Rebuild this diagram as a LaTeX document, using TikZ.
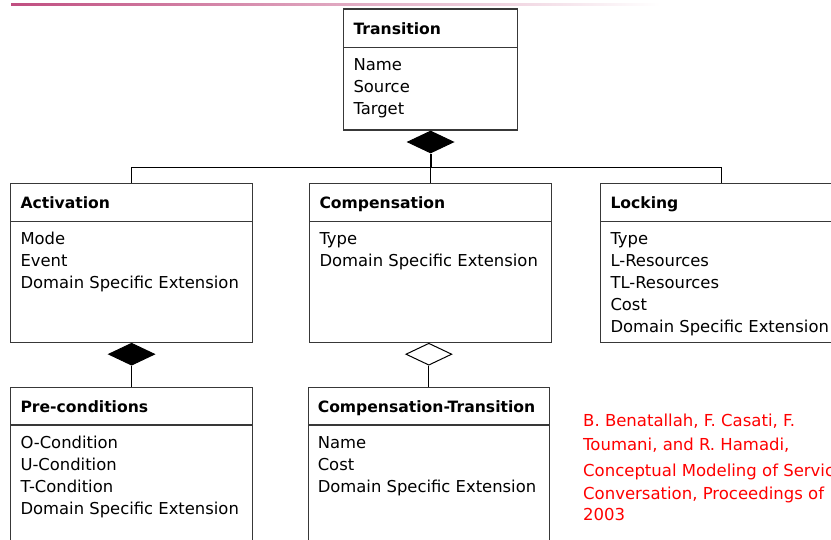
\documentclass[tikz,border=0pt]{standalone}
\usepackage{fontspec}
\setmainfont{DejaVu Sans}
\usetikzlibrary{shapes.geometric}

\definecolor{umlline}{gray}{0.22}
\definecolor{barpink}{RGB}{192,78,128}
\definecolor{refred}{RGB}{255,0,0}

\tikzset{
  part/.style={draw=umlline, line width=1.2pt, rectangle, inner sep=0pt, anchor=north west},
  cltitle/.style={font=\fontsize{15.6}{20}\selectfont\bfseries, anchor=base west, inner sep=0pt},
  clattr/.style={font=\fontsize{16.4}{20}\selectfont, anchor=base west, inner sep=0pt},
  reftext/.style={font=\fontsize{16.5}{20}\selectfont, text=refred, anchor=base west, inner sep=0pt},
  link/.style={draw=black, line width=1pt},
  agg/.style={diamond, draw=black, line width=1pt, minimum width=46pt, minimum height=22pt, inner sep=0pt, anchor=north},
}

\begin{document}
\begin{tikzpicture}[x=1pt,y=-1pt]
  \useasboundingbox (0,0) rectangle (831,539);
  \clip (0,0) rectangle (831,539);

  % header rule
  \shade[left color=barpink, right color=white] (11,3.3) rectangle (660,5.4);

  % class boxes: header part and attribute part
  \node[part, minimum width=174pt, minimum height=38.4pt] (transH) at (343,8.3) {};
  \node[part, minimum width=174pt, minimum height=82.6pt] (transB) at (343,46.7) {};

  \node[part, minimum width=242pt, minimum height=38pt] (actH) at (10,182.7) {};
  \node[part, minimum width=242pt, minimum height=120.8pt] (actB) at (10,220.7) {};

  \node[part, minimum width=242pt, minimum height=38pt] (compH) at (309,182.7) {};
  \node[part, minimum width=242pt, minimum height=120.8pt] (compB) at (309,220.7) {};

  \node[part, minimum width=242pt, minimum height=38pt] (lockH) at (600,182.7) {};
  \node[part, minimum width=242pt, minimum height=120.8pt] (lockB) at (600,220.7) {};

  \node[part, minimum width=242pt, minimum height=37.6pt] (preH) at (10,386.7) {};
  \node[part, minimum width=242pt, minimum height=140pt] (preB) at (10,424.3) {};

  \node[part, minimum width=241.5pt, minimum height=37.6pt] (ctH) at (307.5,386.7) {};
  \node[part, minimum width=241.5pt, minimum height=140pt] (ctB) at (307.5,424.3) {};

  % class names
  \node[cltitle] (transT) at (353.3,34.6) {Transition};
  \node[cltitle] (actT)   at (20.3,208.3) {Activation};
  \node[cltitle] (compT)  at (319.3,208.3) {Compensation};
  \node[cltitle] (lockT)  at (610.3,208.3) {Locking};
  \node[cltitle] (preT)   at (20.3,412.2) {Pre-conditions};
  \node[cltitle] (ctT)    at (317.6,412.2) {Compensation-Transition};

  % attributes
  \foreach \t [count=\i from 0] in {Name, Source, Target}
    \node[clattr] (transA\i) at (353.3,70.1+22*\i) {\t};
  \foreach \t [count=\i from 0] in {Mode, Event, Domain Specific Extension}
    \node[clattr] (actA\i) at (20.3,244.1+22*\i) {\t};
  \foreach \t [count=\i from 0] in {Type, Domain Specific Extension}
    \node[clattr] (compA\i) at (319.3,244.1+22*\i) {\t};
  \foreach \t [count=\i from 0] in {Type, L-Resources, TL-Resources, Cost, Domain Specific Extension}
    \node[clattr] (lockA\i) at (610.3,244.1+22*\i) {\t};
  \foreach \t [count=\i from 0] in {O-Condition, U-Condition, T-Condition, Domain Specific Extension}
    \node[clattr] (preA\i) at (20.3,448.2+22*\i) {\t};
  \foreach \t [count=\i from 0] in {Name, Cost, Domain Specific Extension}
    \node[clattr] (ctA\i) at (317.6,448.2+22*\i) {\t};

  % aggregation diamonds
  \node[agg, fill=black] (dT) at (transB.south) {};
  \node[agg, fill=black] (dA) at (actB.south) {};
  \node[agg, fill=white] (dC) at (ctH.north |- compB.south) {};

  % connectors
  \coordinate (bus) at (dT.south |- 0,167.3);
  \draw[link] (actH.north) |- (bus) -| (lockH.north);
  \draw[link] (bus) -- (compH.north);
  \draw[link, line width=2pt] (dT.south) -- (bus);
  \draw[link] (dA.south) -- (preH.north);
  \draw[link] (dC.south) -- (ctH.north);

  % reference note
  \node[reftext] (ref1) at (583,426.7) {B. Benatallah, F. Casati, F.};
  \node[reftext] (ref2) at (583,450.0) {Toumani, and R. Hamadi,};
  \node[reftext] (ref3) at (583,476.0) {Conceptual Modeling of Service};
  \node[reftext] (ref4) at (583,499.0) {Conversation, Proceedings of};
  \node[reftext] (ref5) at (583,520.7) {2003};
\end{tikzpicture}
\end{document}
